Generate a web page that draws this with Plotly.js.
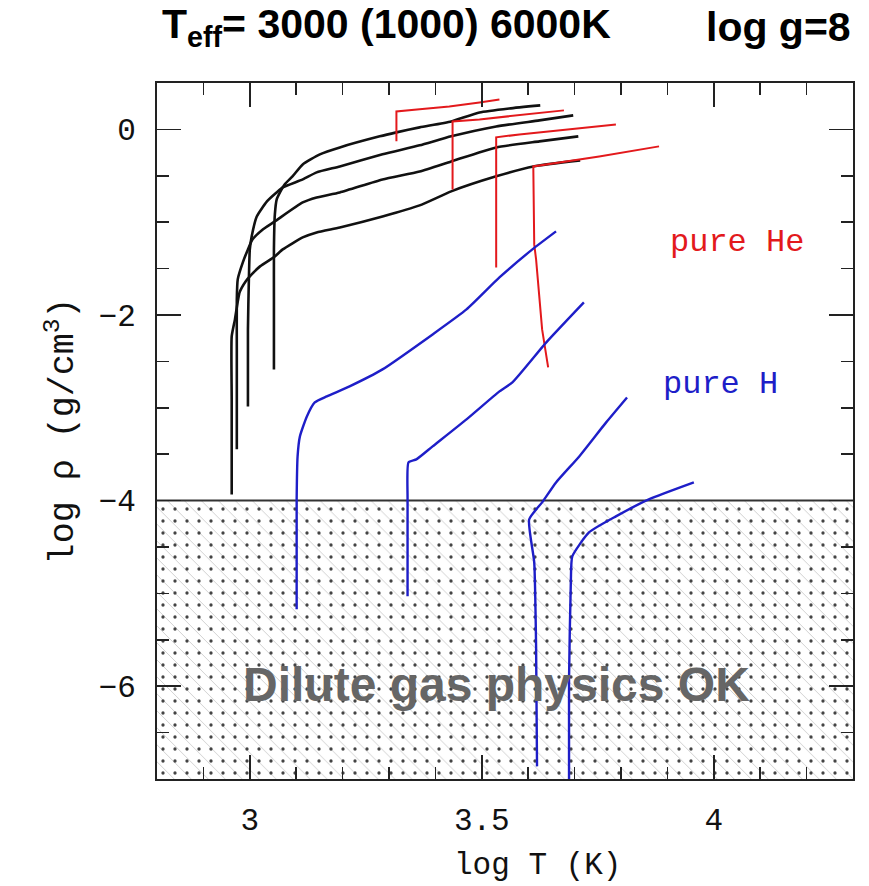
<!DOCTYPE html>
<html>
<head>
<meta charset="utf-8">
<script src="https://cdn.plot.ly/plotly-3.0.1.min.js"></script>
<style>html,body{margin:0;padding:0;background:#fff;}#chart{width:869px;height:886px;}</style>
</head>
<body>
<div id="chart"></div>
<script>
// ---- data (log T, log rho) ----
var black1X = [3.052,3.052,3.052,3.054,3.058,3.065,3.075,3.092,3.114,3.151,3.194,3.280,3.316,3.366,3.434,3.495,3.559,3.626];
var black1Y = [-2.586,-1.832,-1.293,-0.916,-0.754,-0.679,-0.593,-0.506,-0.377,-0.269,-0.194,-0.075,-0.032,0.022,0.086,0.183,0.226,0.259];
var black2X = [2.996,2.996,2.998,3.000,3.004,3.015,3.037,3.058,3.071,3.114,3.144,3.194,3.286,3.366,3.434,3.531,3.624,3.697];
var black2Y = [-2.985,-2.155,-1.616,-1.293,-1.153,-0.938,-0.776,-0.679,-0.625,-0.539,-0.463,-0.399,-0.269,-0.172,-0.075,0.032,0.097,0.151];
var black3X = [2.972,2.972,2.972,2.974,2.985,2.996,3.006,3.028,3.054,3.114,3.144,3.194,3.286,3.366,3.434,3.531,3.624,3.708];
var black3Y = [-3.448,-2.371,-1.832,-1.616,-1.433,-1.293,-1.185,-1.078,-0.991,-0.787,-0.733,-0.679,-0.539,-0.453,-0.345,-0.194,-0.129,-0.075];
var black4X = [2.961,2.961,2.961,2.968,2.978,2.991,3.004,3.022,3.054,3.071,3.114,3.144,3.194,3.286,3.366,3.434,3.531,3.611,3.712];
var black4Y = [-3.933,-2.909,-2.231,-2.047,-1.756,-1.638,-1.562,-1.476,-1.369,-1.293,-1.164,-1.110,-1.056,-0.938,-0.819,-0.668,-0.506,-0.399,-0.334];

var he1X = [3.316,3.316,3.366,3.430,3.495,3.538];
var he1Y = [-0.129,0.194,0.216,0.248,0.291,0.323];
var he2X = [3.437,3.437,3.495,3.581,3.677];
var he2Y = [-0.647,0.086,0.108,0.151,0.205];
var he3X = [3.531,3.531,3.531,3.581,3.667,3.789];
var he3Y = [-1.487,-0.754,-0.086,-0.054,-0.011,0.054];
var he4X = [3.643,3.630,3.617,3.613,3.611,3.667,3.753,3.882];
var he4Y = [-2.565,-2.155,-1.401,-1.239,-0.399,-0.356,-0.291,-0.183];

var h1X = [3.101,3.101,3.103,3.108,3.123,3.140,3.166,3.215,3.286,3.394,3.467,3.538,3.609,3.660];
var h1Y = [-5.172,-3.987,-3.524,-3.308,-3.093,-2.942,-2.877,-2.769,-2.586,-2.209,-1.940,-1.595,-1.293,-1.099];
var h2X = [3.340,3.340,3.342,3.359,3.394,3.467,3.538,3.566,3.639,3.720];
var h2Y = [-5.032,-3.987,-3.588,-3.556,-3.416,-3.125,-2.823,-2.726,-2.295,-1.864];
var h3X = [3.619,3.617,3.613,3.602,3.630,3.660,3.710,3.768,3.813];
var h3Y = [-6.864,-5.571,-4.666,-4.203,-4.019,-3.804,-3.524,-3.157,-2.888];
var h4X = [3.688,3.688,3.692,3.695,3.731,3.789,3.860,3.957];
var h4Y = [-7.0,-5.927,-4.849,-4.601,-4.343,-4.170,-3.987,-3.804];

var xRange = [2.8, 4.3];
var yRange = [-7, 0.5];
var diluteLimit = -4;
var xTickVals = [3, 3.5, 4];
var xTickText = ['3', '3.5', '4'];
var yTickVals = [0, -2, -4, -6];
var yTickText = ['0', '\u22122', '\u22124', '\u22126'];

var BLACK = '#111111', RED = '#e3191c', BLUE = '#1e1ec8';
var serif = '"Liberation Mono", "Courier New", monospace';
var sans = '"Liberation Sans", Arial, sans-serif';

function line(x, y, color, w, smooth) {
  var ln = {color: color, width: w};
  if (smooth) { ln.shape = 'spline'; ln.smoothing = 0.5; }
  return {x: x, y: y, type: 'scatter', mode: 'lines', line: ln, hoverinfo: 'skip', showlegend: false};
}

var traces = [];
var boxX = [xRange[0], xRange[1], xRange[1], xRange[0], xRange[0]];
var boxY = [diluteLimit, diluteLimit, yRange[0], yRange[0], diluteLimit];
// dilute gas region: faint diagonal hatch + dots
traces.push({
  x: boxX, y: boxY, type: 'scatter', mode: 'lines', fill: 'toself', fillcolor: 'white',
  fillpattern: {shape: '\\', fgcolor: '#cfcfcf', bgcolor: 'white', size: 12, solidity: 0.08},
  line: {width: 0, color: 'rgba(0,0,0,0)'}, hoverinfo: 'skip', showlegend: false
});
traces.push({
  x: boxX, y: boxY, type: 'scatter', mode: 'lines', fill: 'toself', fillcolor: 'rgba(0,0,0,0)',
  fillpattern: {shape: '.', fgcolor: '#444444', bgcolor: 'rgba(0,0,0,0)', size: 12, solidity: 0.06},
  line: {width: 0, color: 'rgba(0,0,0,0)'}, hoverinfo: 'skip', showlegend: false
});
traces.push({x: [xRange[0], xRange[1]], y: [diluteLimit, diluteLimit], type: 'scatter', mode: 'lines',
  line: {color: '#333333', width: 2}, hoverinfo: 'skip', showlegend: false});

[[black1X,black1Y],[black2X,black2Y],[black3X,black3Y],[black4X,black4Y]].forEach(function(s){ traces.push(line(s[0], s[1], BLACK, 2.6, true)); });
[[he1X,he1Y],[he2X,he2Y],[he3X,he3Y],[he4X,he4Y]].forEach(function(s){ traces.push(line(s[0], s[1], RED, 2, false)); });
[[h1X,h1Y],[h2X,h2Y],[h3X,h3Y],[h4X,h4Y]].forEach(function(s){ traces.push(line(s[0], s[1], BLUE, 2.4, true)); });

var layout = {
  width: 869, height: 886,
  margin: {l: 157, r: 16, t: 83, b: 107},
  paper_bgcolor: 'white', plot_bgcolor: 'white',
  showlegend: false,
  xaxis: {
    range: xRange, showgrid: false, zeroline: false,
    showline: true, linecolor: '#222', linewidth: 2, mirror: 'ticks',
    ticks: 'inside', ticklen: 24, tickwidth: 1.5, tickcolor: '#222',
    tickmode: 'array', tickvals: xTickVals, ticktext: xTickText,
    minor: {dtick: 0.1, tick0: 0, ticks: 'inside', ticklen: 12, tickwidth: 1.5, tickcolor: '#222', showgrid: false},
    tickfont: {family: serif, size: 31, color: '#111'},
    ticklabelstandoff: 12
  },
  yaxis: {
    range: yRange, showgrid: false, zeroline: false,
    showline: true, linecolor: '#222', linewidth: 2, mirror: 'ticks',
    ticks: 'inside', ticklen: 24, tickwidth: 1.5, tickcolor: '#222',
    tickmode: 'array', tickvals: yTickVals, ticktext: yTickText,
    minor: {dtick: 0.5, tick0: 0, ticks: 'inside', ticklen: 12, tickwidth: 1.5, tickcolor: '#222', showgrid: false},
    tickfont: {family: serif, size: 31, color: '#111'},
    ticklabelstandoff: 13,
    title: {text: 'log \u03c1 (g/cm<sup>3</sup>)', font: {family: serif, size: 35, color: '#111'}, standoff: 14}
  },
  annotations: [
    {xref: 'paper', yref: 'paper', x: 0.004, y: 1.0, yshift: 56, xanchor: 'left', yanchor: 'middle', showarrow: false,
     text: '<b>T<sub>eff</sub>= 3000 (1000) 6000K</b>', font: {family: sans, size: 41, color: '#000'}},
    {xref: 'paper', yref: 'paper', x: 1.0, y: 1.0, yshift: 56, xanchor: 'right', yanchor: 'middle', showarrow: false,
     text: '<b>log g=8</b>', font: {family: sans, size: 41, color: '#000'}},
    {xref: 'paper', yref: 'paper', x: 0.546, y: 0, yshift: -86, xanchor: 'center', yanchor: 'middle', showarrow: false,
     text: 'log T (K)', font: {family: serif, size: 31, color: '#111'}},
    {xref: 'x', yref: 'y', x: 4.049, y: -1.22, xanchor: 'center', yanchor: 'middle', showarrow: false,
     text: 'pure He', font: {family: serif, size: 32, color: RED}},
    {xref: 'x', yref: 'y', x: 4.015, y: -2.75, xanchor: 'center', yanchor: 'middle', showarrow: false,
     text: 'pure H', font: {family: serif, size: 32, color: BLUE}},
    {xref: 'x', yref: 'y', x: 3.532, y: -5.98, xanchor: 'center', yanchor: 'middle', showarrow: false,
     text: '<b>Dilute gas physics OK</b>', font: {family: sans, size: 48, color: '#666666'}}
  ]
};

Plotly.newPlot('chart', traces, layout, {displayModeBar: false, staticPlot: true});
</script>
</body>
</html>
